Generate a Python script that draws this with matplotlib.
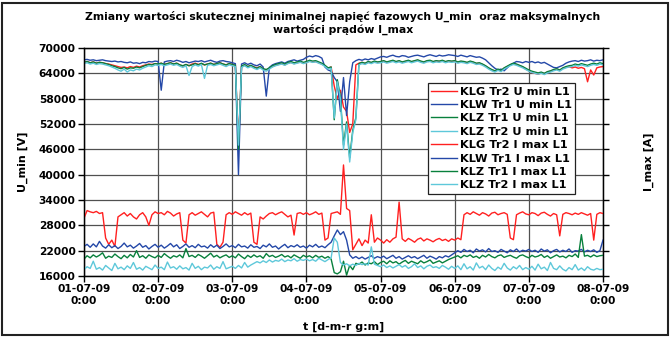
import numpy as np
import matplotlib
matplotlib.use("Agg")
import matplotlib.pyplot as plt
from matplotlib.patches import Rectangle

plt.rcParams['font.family'] = ['DejaVu Sans']

# time axis: hours from 01-07-09 0:00, one sample per hour
hours = np.arange(0, 169)
day_labels = ['01-07-09\n0:00', '02-07-09\n0:00', '03-07-09\n0:00', '04-07-09\n0:00',
              '05-07-09\n0:00', '06-07-09\n0:00', '07-07-09\n0:00', '08-07-09\n0:00']
y_ticks = [16000, 22000, 28000, 34000, 40000, 46000, 52000, 58000, 64000, 70000]

# U_min [kV]
klg_u = [66.6,66.8,66.5,66.7,66.4,66.6,66.5,66.3,66.2,66.0,65.8,65.6,65.4,65.5,65.3,65.6,65.4,65.7,65.5,65.8,66.0,66.2,66.1,66.3,
         66.2,66.4,66.1,66.3,66.5,66.2,66.4,66.0,65.7,66.1,65.8,66.2,66.4,66.1,66.3,66.0,66.2,66.4,66.1,66.3,66.5,66.2,66.0,66.3,
         66.1,65.9,47.5,65.7,65.9,65.6,65.8,65.5,65.3,65.6,65.0,64.8,65.2,65.6,65.9,66.1,66.3,66.0,66.4,66.6,66.3,66.5,66.7,66.4,
         66.6,66.9,66.7,66.8,66.5,66.2,65.8,65.2,65.5,61.0,58.0,60.0,56.0,55.0,50.0,52.0,66.0,66.4,66.6,66.3,66.7,66.5,66.8,66.6,
         66.7,66.9,66.6,66.8,67.0,66.7,66.9,66.6,66.8,67.0,66.7,66.9,67.1,66.8,66.6,66.9,67.0,66.7,66.9,66.8,67.0,66.7,66.9,66.8,
         66.9,66.6,66.8,66.7,66.5,66.8,66.6,66.3,66.4,66.1,65.7,65.2,64.8,64.5,64.9,64.6,65.2,65.6,66.0,66.3,66.1,65.8,65.5,65.0,
         64.6,64.2,64.0,63.8,64.1,63.9,64.3,64.5,64.8,65.0,64.7,65.2,65.4,65.6,65.3,65.5,65.2,65.4,65.1,62.0,64.8,63.6,65.3,65.5,
         65.6]
klw_u = [67.2,67.3,67.1,67.2,67.0,67.1,67.2,67.0,66.9,66.8,66.9,66.7,66.8,66.6,66.5,66.7,66.4,66.5,66.3,66.6,66.5,66.8,66.7,66.9,
         66.8,60.0,66.7,66.9,67.0,66.8,67.1,66.9,66.6,66.8,66.5,66.7,66.9,66.8,67.0,66.7,66.9,67.1,66.8,66.6,66.9,67.0,66.8,66.7,
         66.5,66.3,40.0,66.2,66.5,66.1,66.4,66.0,65.8,66.2,65.5,58.6,65.4,66.0,66.3,66.5,66.7,66.4,66.8,67.0,67.2,66.9,67.1,67.3,
         67.8,68.1,67.9,68.2,68.0,67.6,65.5,64.8,64.5,63.0,62.0,55.0,63.0,54.0,62.0,66.5,67.0,67.3,67.1,67.4,67.2,67.5,67.3,67.6,
         67.9,68.0,67.8,68.1,68.3,68.0,67.9,68.2,68.1,67.8,68.0,68.2,68.3,68.1,67.9,68.2,68.4,68.2,68.0,68.3,68.1,68.2,68.4,68.3,
         68.2,68.0,68.3,68.1,67.9,68.2,68.0,67.8,67.9,67.6,67.2,66.5,65.8,65.2,64.8,65.0,64.6,65.3,66.0,66.4,66.8,66.7,66.5,66.8,
         66.6,66.8,66.5,66.7,66.4,66.6,66.2,65.8,65.4,65.3,65.6,65.9,66.4,66.7,66.9,67.0,66.8,67.1,66.9,67.0,67.2,66.9,67.1,67.0,
         67.2]
klz1_u = [66.6,66.8,66.5,66.7,66.4,66.6,66.5,66.3,66.1,65.8,65.6,65.3,65.1,65.4,65.0,65.3,65.2,65.5,65.3,65.6,65.9,66.1,66.0,66.3,
          66.2,66.4,66.1,66.3,66.5,66.2,66.4,66.0,65.8,66.1,65.8,66.0,66.3,66.0,66.4,66.0,66.2,66.4,66.1,66.3,66.5,66.2,66.0,66.3,
          66.1,65.9,46.0,65.7,66.1,65.6,65.9,65.5,65.2,65.6,65.1,64.9,65.3,65.8,66.1,66.3,66.5,66.2,66.6,66.8,66.5,66.7,66.9,66.6,
          66.8,67.1,66.9,67.0,66.7,66.4,65.9,65.3,65.5,53.0,62.5,58.5,47.0,52.5,44.0,50.5,53.5,66.3,66.6,66.4,66.8,66.6,66.9,66.7,
          66.8,67.0,66.7,66.9,67.1,66.8,67.0,66.7,66.9,67.1,66.8,67.0,67.2,66.9,66.7,67.0,67.1,66.8,67.0,66.9,67.1,66.8,67.0,66.9,
          67.0,66.7,66.9,66.8,66.6,66.9,66.7,66.4,66.5,66.2,65.8,65.3,64.9,64.6,65.0,64.7,65.3,65.7,66.1,66.4,66.2,65.9,65.6,65.2,
          64.8,64.5,64.3,64.1,64.3,64.0,64.4,64.6,64.9,65.1,64.8,65.3,65.6,65.8,65.9,66.2,66.0,66.3,66.1,65.9,66.2,66.4,66.2,66.5,
          66.3]
klz2_u = [66.3,66.5,66.2,66.4,66.1,66.3,66.2,66.0,65.8,65.5,65.2,64.8,64.5,65.0,64.3,64.8,64.6,65.0,64.8,65.2,65.5,65.8,65.6,66.0,
          65.9,66.1,65.8,66.0,66.2,65.9,66.1,65.7,65.4,65.8,63.5,65.6,66.0,65.7,66.1,62.8,65.9,66.1,65.8,66.0,66.2,65.9,65.6,66.0,
          65.8,65.6,47.0,65.4,65.8,65.3,65.6,65.2,64.9,65.3,64.8,64.5,65.0,65.5,65.8,66.0,66.2,65.9,66.3,66.5,66.2,66.4,66.6,66.3,
          66.5,66.8,66.6,66.7,66.4,66.1,65.6,65.0,65.2,53.4,62.0,58.0,46.0,52.0,43.0,50.0,53.0,66.0,66.3,66.1,66.5,66.3,66.6,66.4,
          66.5,66.7,66.4,66.6,66.8,66.5,66.7,66.4,66.6,66.8,66.5,66.7,66.9,66.6,66.4,66.7,66.8,66.5,66.7,66.6,66.8,66.5,66.7,66.6,
          66.7,66.4,66.6,66.5,66.3,66.6,66.4,66.1,66.2,65.9,65.5,65.0,64.6,64.3,64.7,64.4,65.0,65.4,65.8,66.1,65.9,65.6,65.3,64.9,
          64.5,64.2,64.0,63.8,64.0,63.7,64.1,64.3,64.6,64.8,64.5,65.0,65.3,65.5,65.6,65.9,65.7,66.0,65.8,65.6,65.9,66.1,65.9,66.2,
          66.0]

# I_max, read against the left scale (right axis carries no numbers)
klg_i = [29.7,31.5,31.2,31.0,31.3,30.8,31.0,25.0,23.5,24.5,23.0,30.0,30.5,31.0,30.2,30.8,30.0,29.5,30.5,31.0,30.0,28.0,30.5,31.2,
         30.8,31.0,30.5,31.3,30.9,30.2,30.7,31.0,24.5,23.8,30.5,31.0,30.4,30.8,31.2,30.6,30.0,30.9,31.1,23.5,22.8,24.0,30.5,31.0,
         30.6,31.2,30.8,30.4,31.0,30.5,30.9,24.0,23.5,30.0,29.5,30.2,30.8,31.0,30.5,30.9,31.2,30.6,30.0,30.4,25.7,30.8,31.0,30.6,
         31.0,30.5,30.8,31.2,30.6,30.9,24.5,25.0,30.8,31.0,31.2,30.6,42.3,32.0,31.5,22.2,23.5,24.8,23.2,24.5,23.8,30.5,24.0,25.0,
         24.5,23.8,24.6,24.0,24.8,25.2,33.5,24.8,24.2,24.9,24.5,24.0,24.7,25.0,24.3,24.8,24.5,24.1,24.6,24.9,24.4,24.7,24.2,24.8,
         24.5,25.0,24.6,30.5,31.0,30.6,31.2,30.8,30.4,31.0,30.7,30.2,30.9,31.1,30.5,30.8,31.0,30.6,25.0,24.6,30.5,30.9,31.2,30.7,
         30.5,31.0,30.8,30.3,30.9,31.1,30.6,30.2,30.8,30.5,25.5,30.6,31.0,30.8,30.5,30.9,30.6,31.0,30.7,30.4,30.8,24.5,30.6,31.0,
         30.8]
klw_i = [23.0,23.5,22.8,23.6,22.9,24.2,23.1,22.6,23.4,22.7,23.2,22.5,23.0,23.8,22.9,23.3,22.6,23.1,23.7,22.8,23.2,22.4,23.0,23.5,
         22.8,23.3,22.6,23.1,23.7,22.9,23.4,22.5,23.0,23.6,22.8,23.2,22.7,23.5,22.9,23.1,22.6,23.4,22.8,23.3,22.5,23.0,23.6,22.9,
         23.2,22.7,23.5,22.9,23.1,22.6,23.4,22.8,23.0,22.5,23.3,22.9,23.6,22.8,23.1,22.4,23.0,23.5,22.7,23.2,22.9,23.4,22.8,23.1,
         22.6,23.3,22.9,23.5,22.8,23.1,22.7,23.4,24.0,25.5,26.9,25.8,26.5,24.5,21.0,20.2,20.6,20.1,20.5,20.0,20.4,20.8,20.2,20.6,
         20.3,20.7,20.1,20.5,20.9,20.2,20.6,20.0,20.4,20.8,20.3,20.6,20.1,20.5,20.9,20.2,20.7,20.4,20.0,20.6,20.3,20.8,20.5,21.0,
         21.5,22.0,21.6,22.3,21.8,22.1,21.5,22.4,21.9,22.2,21.7,22.5,21.8,22.0,21.6,22.3,21.9,21.5,22.2,21.8,22.4,21.7,22.1,21.9,
         22.3,21.8,22.1,21.6,22.4,21.9,22.2,21.5,22.0,22.3,21.7,22.1,21.8,22.4,21.6,22.0,21.9,22.3,21.7,22.1,21.8,22.2,21.6,22.0,
         24.5]
klz1_i = [20.0,20.8,20.3,21.0,20.5,20.9,21.5,20.2,20.7,20.4,21.2,20.6,20.1,20.9,20.3,21.1,20.5,22.0,20.4,20.8,20.2,21.0,20.6,20.3,
          20.9,20.4,21.3,20.7,20.2,20.8,20.5,21.0,20.3,22.5,20.6,20.9,20.4,21.1,20.7,20.2,20.8,21.4,20.5,20.9,20.3,20.7,21.0,20.4,
          20.8,20.3,21.2,20.6,20.1,20.9,20.4,21.0,20.5,20.8,20.2,21.3,20.6,20.9,20.4,20.7,21.1,20.5,20.8,20.3,21.0,20.6,20.2,20.9,
          20.5,20.8,20.3,20.9,20.4,20.7,20.2,20.6,20.0,16.8,16.5,17.0,19.5,16.2,18.5,17.5,19.0,18.8,19.3,18.6,19.1,18.9,19.4,18.7,
          19.2,19.5,18.9,19.6,19.1,19.4,18.8,19.3,19.7,19.0,19.5,19.2,18.9,19.6,19.1,19.4,19.8,19.0,19.3,19.6,19.1,19.5,19.9,20.2,
          20.5,20.8,20.3,20.9,20.6,21.0,20.4,20.7,20.2,20.9,20.5,21.1,20.6,20.3,20.8,21.0,20.4,20.7,20.9,20.5,20.2,20.8,21.0,20.6,
          20.3,20.9,20.5,20.7,21.1,20.4,20.8,20.2,20.6,21.0,20.5,20.7,20.3,20.9,20.6,21.2,20.4,25.8,20.7,20.9,20.5,21.0,20.6,20.8,
          20.9]
klz2_i = [17.5,18.2,17.8,19.5,17.6,18.0,17.4,18.5,17.9,17.3,19.0,17.7,18.1,17.5,18.4,17.8,19.2,17.6,18.0,17.4,18.3,17.9,17.5,18.6,
          17.8,18.1,17.5,19.3,17.9,18.2,17.6,18.4,17.7,18.0,17.4,19.0,17.8,18.3,17.5,18.1,17.9,18.6,17.6,18.2,17.8,19.4,17.7,18.0,
          18.3,17.8,18.5,17.9,19.2,18.1,18.6,19.0,19.4,19.1,19.6,19.2,19.8,19.3,19.7,19.5,20.0,19.4,19.8,19.6,20.1,19.5,19.9,19.7,
          20.0,19.6,19.9,19.5,20.2,19.8,19.4,19.9,20.3,25.0,24.0,19.2,18.6,18.9,18.4,18.8,18.5,19.0,18.7,18.9,18.6,22.9,18.8,18.5,
          18.2,18.6,18.0,18.4,17.9,18.3,18.7,18.1,18.5,17.8,18.2,18.9,18.0,18.4,17.7,18.3,18.6,18.0,18.2,17.8,18.5,18.1,17.6,18.3,
          17.8,18.4,17.5,18.9,17.7,18.2,17.4,19.1,17.9,18.3,17.5,18.6,17.8,17.3,18.1,17.6,19.0,17.9,17.4,18.2,17.7,18.5,17.5,18.0,
          17.6,18.3,17.4,18.8,17.7,18.1,17.3,19.2,17.8,17.5,18.4,17.6,17.2,18.0,17.5,18.7,17.4,17.9,17.3,18.2,17.6,17.4,17.8,17.5,
          17.6]

c_red, c_blue, c_green, c_cyan = '#ff2020', '#2448a8', '#08803c', '#5ec8da'

fig = plt.figure(figsize=(6.71, 3.38), dpi=100)
ax = fig.add_axes([84/671, 1 - 276/338, 519/671, 228/338])
ax2 = ax.twinx()

lw = 1.0
h = []
h += ax.plot(hours, np.array(klg_u) * 1000, color=c_red, lw=lw, label='KLG Tr2 U min L1')
h += ax.plot(hours, np.array(klw_u) * 1000, color=c_blue, lw=lw, label='KLW Tr1 U min L1')
h += ax.plot(hours, np.array(klz1_u) * 1000, color=c_green, lw=lw, label='KLZ Tr1 U min L1')
h += ax.plot(hours, np.array(klz2_u) * 1000, color=c_cyan, lw=lw, label='KLZ Tr2 U min L1')
h += ax2.plot(hours, np.array(klg_i) * 1000, color=c_red, lw=lw, label='KLG Tr2 I max L1')
h += ax2.plot(hours, np.array(klw_i) * 1000, color=c_blue, lw=lw, label='KLW Tr1 I max L1')
h += ax2.plot(hours, np.array(klz1_i) * 1000, color=c_green, lw=lw, label='KLZ Tr1 I max L1')
h += ax2.plot(hours, np.array(klz2_i) * 1000, color=c_cyan, lw=lw, label='KLZ Tr2 I max L1')

for a in (ax, ax2):
    a.set_ylim(16000, 70000)
    a.set_xlim(0, 168)
    a.set_yticks(y_ticks)
ax.set_xticks(np.arange(0, 169, 24))
ax.set_xticklabels(day_labels, fontsize=7.7, fontweight='bold', linespacing=1.25)
ax.set_yticklabels([str(v) for v in y_ticks], fontsize=7.7, fontweight='bold')
ax2.set_yticklabels([])
ax.tick_params(direction='out', length=4, width=1, pad=2)
ax2.tick_params(direction='out', length=4, width=1)
ax.grid(True, color='#505050', lw=0.9)
for s in ax.spines.values():
    s.set_linewidth(1.0)

ax.set_ylabel('U_min [V]', fontsize=8, fontweight='bold')
ax.yaxis.set_label_coords(-0.108, 0.5)
ax2.set_ylabel('I_max [A]', fontsize=8, fontweight='bold', rotation=90)
ax2.yaxis.set_label_coords(1.079, 0.5)
ax.set_xlabel('t [d-m-r g:m]', fontsize=8, fontweight='bold')
ax.xaxis.set_label_coords(0.5, -0.2)

fig.text(343/671, 1 - 23/338,
         'Zmiany wartości skutecznej minimalnej napięć fazowych U_min  oraz maksymalnych\nwartości prądów I_max',
         ha='center', va='center', fontsize=7.8, fontweight='bold', linespacing=1.15)

leg = ax2.legend(handles=h, loc='upper right', bbox_to_anchor=(0.946, 0.846),
                 fontsize=8.2, frameon=True, fancybox=False, framealpha=1,
                 edgecolor='#222222', borderpad=0.3, labelspacing=0.3,
                 handlelength=2.3, handletextpad=0.2, borderaxespad=0)
leg.get_frame().set_linewidth(0.9)
for t in leg.get_texts():
    t.set_fontweight('bold')

fig.patches.append(Rectangle((2/671, 3/338), 666/671, 332/338, transform=fig.transFigure,
                             fill=False, edgecolor='#222222', lw=1.5))

fig.savefig('out.png', dpi=100)
